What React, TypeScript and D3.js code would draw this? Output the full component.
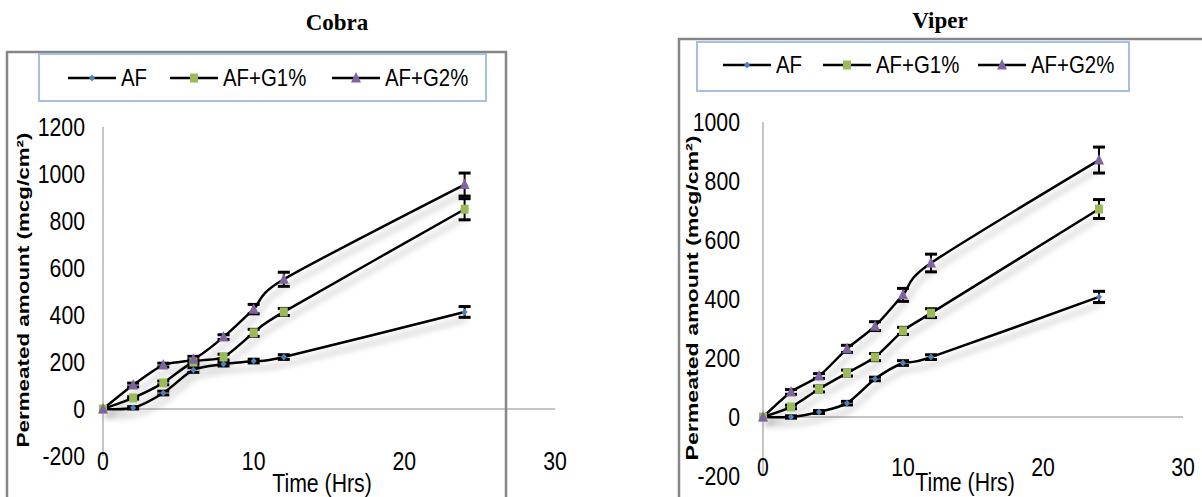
import React from "react";
import * as d3 from "d3";

const hours = [0, 2, 4, 6, 8, 10, 12, 24];
const seriesNames = ["AF", "AF+G1%", "AF+G2%"];
const xTicks = [0, 10, 20, 30];

const cobraAF = [0, 5, 68, 166, 191, 204, 221, 413];
const cobraG1 = [0, 47, 111, 200, 221, 324, 413, 850];
const cobraG2 = [0, 102, 187, 212, 306, 425, 552, 955];
const cobraAFErr = [0, 5, 8, 10, 8, 8, 10, 23];
const cobraG1Err = [0, 5, 8, 10, 12, 15, 15, 45];
const cobraG2Err = [0, 8, 8, 12, 10, 20, 30, 49];
const cobraYTicks = [-200, 0, 200, 400, 600, 800, 1000, 1200];

const viperAF = [0, 0, 17, 47, 129, 183, 203, 407];
const viperG1 = [0, 34, 95, 149, 203, 292, 352, 705];
const viperG2 = [0, 85, 139, 231, 308, 414, 522, 871];
const viperAFErr = [0, 4, 5, 6, 6, 8, 8, 19];
const viperG1Err = [0, 6, 10, 10, 12, 12, 15, 32];
const viperG2Err = [0, 8, 8, 12, 15, 22, 30, 44];
const viperYTicks = [-200, 0, 200, 400, 600, 800, 1000];

const colors = ["#4F81BD", "#9BBB59", "#8064A2"];
const sans = "'Liberation Sans', Arial, sans-serif";

// condensed text (the original uses a narrow font)
function NText({ x, y, anchor = "start", size = 25, children }) {
  return (
    <text transform={`translate(${x},${y}) scale(0.85,1)`} textAnchor={anchor} dominantBaseline="central"
      fontFamily={sans} fontSize={size}>
      {children}
    </text>
  );
}

function Marker({ kind, x, y, color }) {
  if (kind === 0) {
    return <path d={`M${x},${y - 3.5}L${x + 3},${y}L${x},${y + 3.5}L${x - 3},${y}Z`} fill={color} />;
  }
  if (kind === 1) {
    return <rect x={x - 4} y={y - 4.5} width={8} height={9} fill={color} />;
  }
  return <path d={`M${x},${y - 6}L${x + 5},${y + 4.5}L${x - 5},${y + 4.5}Z`} fill={color} />;
}

function Panel({ cfg }) {
  const x = d3.scaleLinear().domain([0, 30]).range(cfg.xRange);
  const y = d3.scaleLinear().domain(cfg.yDomain).range(cfg.yRange);
  const line = d3
    .line()
    .x((d, i) => x(hours[i]))
    .y((d) => y(d))
    .curve(d3.curveCardinal.tension(0.2));

  return (
    <g>
      <text x={cfg.title[0]} y={cfg.title[1]} textAnchor="middle" dominantBaseline="middle"
        fontFamily="'Liberation Serif', 'Times New Roman', serif" fontWeight="bold" fontSize={23}>
        {cfg.name}
      </text>
      <rect x={cfg.border[0]} y={cfg.border[1]} width={cfg.border[2]} height={cfg.border[3]}
        fill="white" stroke="#868686" strokeWidth={2.5} />
      <rect x={cfg.legend[0]} y={cfg.legend[1]} width={cfg.legend[2]} height={cfg.legend[3]}
        fill="white" stroke="#A7BFE3" strokeWidth={2} />
      {seriesNames.map((name, i) => {
        const lx = cfg.legendX[i];
        return (
          <g key={name}>
            <line x1={lx} x2={lx + 48} y1={cfg.legendY} y2={cfg.legendY} stroke="black" strokeWidth={2.5} />
            <Marker kind={i} x={lx + 24} y={cfg.legendY} color={colors[i]} />
            <NText x={lx + 53} y={cfg.legendY} size={24}>{name}</NText>
          </g>
        );
      })}

      {/* axes */}
      <line x1={x(0)} x2={x(0)} y1={cfg.yRange[0]} y2={cfg.yRange[1]} stroke="#8c8c8c" strokeWidth={1} />
      <line x1={x(0)} x2={x(30)} y1={y(0)} y2={y(0)} stroke="#8c8c8c" strokeWidth={1.2} />
      {cfg.yTicks.map((t) => (
        <NText key={t} x={cfg.yTickX} y={y(t)} anchor="end">{t}</NText>
      ))}
      {xTicks.map((t) => (
        <NText key={t} x={x(t)} y={cfg.xTickY} anchor="middle">{t}</NText>
      ))}
      <NText x={cfg.xLabel[0]} y={cfg.xLabel[1]} anchor="middle">Time (Hrs)</NText>
      <text transform={`translate(${cfg.yLabel[0]},${cfg.yLabel[1]}) rotate(-90)`} textAnchor="middle"
        dominantBaseline="central" fontFamily={sans} fontWeight="bold"
        fontSize={16} textLength={cfg.yLabel[2]} lengthAdjust="spacingAndGlyphs">
        Permeated amount (mcg/cm²)
      </text>

      {/* lines */}
      {cfg.series.map((s, i) => (
        <path key={"l" + i} d={line(s.values)} fill="none" stroke="black" strokeWidth={2.5}
          filter="url(#shadow)" />
      ))}
      {/* error bars */}
      {cfg.series.map((s, i) =>
        s.values.map((v, j) =>
          s.err[j] > 0 ? (
            <g key={`e${i}-${j}`} stroke="black">
              <line x1={x(hours[j])} x2={x(hours[j])} y1={y(v + s.err[j])} y2={y(v - s.err[j])} strokeWidth={2} />
              <line x1={x(hours[j]) - 6} x2={x(hours[j]) + 6} y1={y(v + s.err[j])} y2={y(v + s.err[j])} strokeWidth={3} />
              <line x1={x(hours[j]) - 6} x2={x(hours[j]) + 6} y1={y(v - s.err[j])} y2={y(v - s.err[j])} strokeWidth={3} />
            </g>
          ) : null
        )
      )}
      {/* markers */}
      {cfg.series.map((s, i) =>
        s.values.map((v, j) => (
          <Marker key={`m${i}-${j}`} kind={i} x={x(hours[j])} y={y(v)} color={colors[i]} />
        ))
      )}
    </g>
  );
}

const panels = [
  {
    name: "Cobra",
    title: [337, 25],
    border: [7, 52, 499, 470],
    legend: [39, 54, 447, 47],
    legendY: 78,
    legendX: [68, 170, 332],
    xRange: [103, 555],
    yDomain: [-200, 1200],
    yRange: [456, 127],
    yTicks: cobraYTicks,
    yTickX: 85,
    xTickY: 461,
    xLabel: [322, 483],
    yLabel: [23, 290, 315],
    series: [
      { values: cobraAF, err: cobraAFErr },
      { values: cobraG1, err: cobraG1Err },
      { values: cobraG2, err: cobraG2Err },
    ],
  },
  {
    name: "Viper",
    title: [940, 23],
    border: [679, 39, 600, 500],
    legend: [697, 42, 432, 49],
    legendY: 65,
    legendX: [723, 823, 978],
    xRange: [763, 1183],
    yDomain: [-200, 1000],
    yRange: [476, 122],
    yTicks: viperYTicks,
    yTickX: 740,
    xTickY: 467,
    xLabel: [965, 482],
    yLabel: [692, 298, 325],
    series: [
      { values: viperAF, err: viperAFErr },
      { values: viperG1, err: viperG1Err },
      { values: viperG2, err: viperG2Err },
    ],
  },
];

export default function App() {
  return (
    <svg width={1202} height={497} style={{ position: "absolute", left: 0, top: 0, background: "white" }}>
      <defs>
        <filter id="shadow" x="-10%" y="-10%" width="130%" height="140%">
          <feDropShadow dx={3} dy={7} stdDeviation={3} floodColor="#000" floodOpacity={0.28} />
        </filter>
      </defs>
      <rect width={1202} height={497} fill="white" />
      {panels.map((p) => (
        <Panel key={p.name} cfg={p} />
      ))}
    </svg>
  );
}
